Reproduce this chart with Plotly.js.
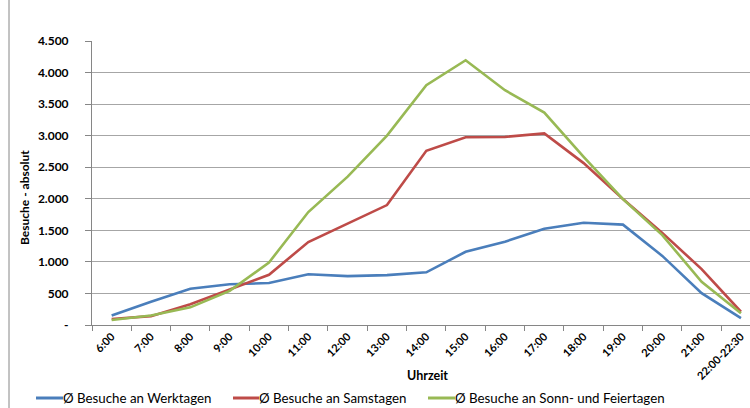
<!DOCTYPE html>
<html>
<head>
<meta charset="utf-8">
<script src="https://cdn.plot.ly/plotly-3.0.1.min.js"></script>
<style>html,body{margin:0;padding:0;background:#fff;}#chart{width:750px;height:408px;}</style>
</head>
<body>
<div id="chart"></div>
<script>
const categories = ["6:00","7:00","8:00","9:00","10:00","11:00","12:00","13:00","14:00","15:00","16:00","17:00","18:00","19:00","20:00","21:00","22:00-22:30"];
const werktage = [150, 370, 575, 645, 665, 805, 775, 790, 835, 1160, 1320, 1525, 1620, 1590, 1095, 505, 110];
const samstage = [95, 140, 330, 565, 795, 1315, 1610, 1900, 2760, 2975, 2980, 3035, 2565, 1995, 1460, 885, 210];
const sonntage = [80, 150, 280, 540, 990, 1790, 2350, 3000, 3800, 4195, 3720, 3365, 2665, 1995, 1425, 685, 185];
const seriesNames = ["Ø Besuche an Werktagen", "Ø Besuche an Samstagen", "Ø Besuche an Sonn- und Feiertagen"];
const yTickVals = [0, 500, 1000, 1500, 2000, 2500, 3000, 3500, 4000, 4500];
const yTickText = ["-", "500", "1.000", "1.500", "2.000", "2.500", "3.000", "3.500", "4.000", "4.500"];
const colors = ["#4A7EBB", "#BE4B48", "#98B954"];

const FONT = "Lato, Liberation Sans, Arial, sans-serif";
const data = [werktage, samstage, sonntage].map((vals, i) => ({
  type: "scatter", mode: "lines", x: categories, y: vals, name: seriesNames[i],
  line: {color: colors[i], width: 2.6}, hoverinfo: "skip", showlegend: false
}));

// pixel -> paper helpers (plot area: x 92..750, y 41..325)
const px = v => (v - 92) / 658;
const py = v => (325 - v) / 284;

// manual legend layout (pixel positions of each entry)
const legLineX = [[36, 63], [233, 259], [428, 455]];
const legY = 398;

const shapes = [
  {type: "line", xref: "paper", yref: "paper", x0: px(9), x1: px(9), y0: py(0), y1: py(408),
    line: {color: "#868686", width: 1}}
];
const annotations = [
  {text: "<b>Uhrzeit</b>", xref: "paper", yref: "paper", x: px(427), y: py(375),
    xanchor: "center", yanchor: "middle", showarrow: false, font: {family: FONT, size: 12.5, color: "#000"}},
  {text: "<b>Besuche - absolut</b>", xref: "paper", yref: "paper", x: px(24), y: py(198),
    xanchor: "center", yanchor: "middle", textangle: -90, showarrow: false, font: {family: FONT, size: 12, color: "#000"}}
];
seriesNames.forEach((name, i) => {
  shapes.push({type: "line", xref: "paper", yref: "paper", x0: px(legLineX[i][0]), x1: px(legLineX[i][1]),
    y0: py(legY), y1: py(legY), line: {color: colors[i], width: 3}});
  annotations.push({text: name, xref: "paper", yref: "paper", x: px(legLineX[i][1] - 2), y: py(legY),
    xanchor: "left", yanchor: "middle", showarrow: false, font: {family: FONT, size: 13.3, color: "#000"}});
});

const layout = {
  width: 750, height: 408,
  margin: {l: 92, r: 0, t: 41, b: 83},
  paper_bgcolor: "#ffffff", plot_bgcolor: "#ffffff",
  font: {family: FONT, color: "#000"},
  showlegend: false,
  xaxis: {
    type: "category", range: [-0.5, 16.23], tickangle: -45,
    ticks: "outside", tickson: "boundaries", ticklen: 5, tickcolor: "#868686",
    showline: true, linecolor: "#868686", linewidth: 1, showgrid: false, zeroline: false,
    tickfont: {family: FONT, size: 11, color: "#000", weight: "bold"}, automargin: false
  },
  yaxis: {
    range: [0, 4500], tickvals: yTickVals, ticktext: yTickText,
    ticks: "outside", ticklen: 6, tickcolor: "#868686", ticklabelstandoff: 14,
    showline: true, linecolor: "#868686", linewidth: 1,
    showgrid: true, gridcolor: "#A6A6A6", gridwidth: 1, zeroline: false,
    tickfont: {family: FONT, size: 12, color: "#000", weight: "bold"}, automargin: false
  },
  annotations: annotations,
  shapes: shapes
};

Plotly.newPlot("chart", data, layout, {displayModeBar: false, staticPlot: true});
</script>
</body>
</html>
